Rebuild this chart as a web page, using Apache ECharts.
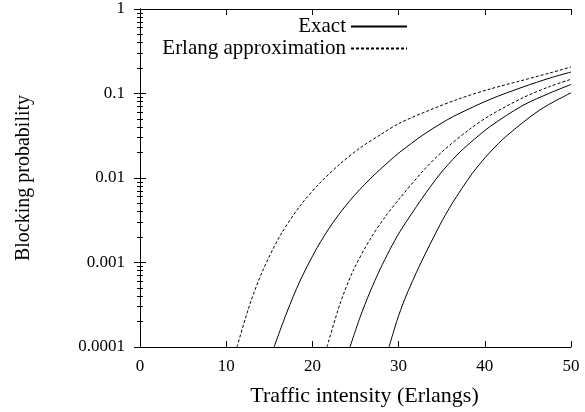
<!DOCTYPE html>
<html>
<head>
<meta charset="utf-8">
<script src="https://cdn.jsdelivr.net/npm/echarts@6/dist/echarts.min.js"></script>
<style>
html,body{margin:0;padding:0;background:#fff;}
#chart{width:585px;height:412px;}
</style>
</head>
<body>
<div id="chart"></div>
<script>
// Traffic intensity (Erlangs) vs blocking probability
const approx1X = [11.25, 12.76, 14.27, 16.24, 18.56, 20.88, 23.20, 25.52, 27.84, 30.16, 33.64, 37.12, 40.60, 44.08, 47.56, 50];
const approx1Y = [0.0001, 0.0003228, 0.000815, 0.00206, 0.00467, 0.00873, 0.01466, 0.02265, 0.03228, 0.0448, 0.0638, 0.0873, 0.113, 0.1406, 0.175, 0.206];

const exact1X = [15.55, 17.05, 18.56, 20.53, 22.39, 24.36, 26.68, 29.00, 30.16, 32.83, 35.15, 36.77, 40.60, 44.43, 47.56, 50];
const exact1Y = [0.0001, 0.0002594, 0.000604, 0.001486, 0.002972, 0.00542, 0.00973, 0.0161, 0.0203, 0.03228, 0.0456, 0.0562, 0.0851, 0.1194, 0.1524, 0.1795];

const approx2X = [21.69, 23.20, 24.71, 26.68, 28.42, 30.16, 32.83, 35.15, 38.28, 40.60, 44.43, 47.56, 50];
const approx2Y = [0.0001, 0.0003228, 0.000793, 0.001871, 0.00345, 0.00579, 0.01211, 0.0209, 0.038, 0.055, 0.0891, 0.1213, 0.1472];

const exact2X = [24.36, 25.52, 26.68, 27.84, 29.00, 30.16, 32.71, 34.80, 36.77, 38.28, 40.60, 44.43, 47.56, 50];
const exact2Y = [0.0001, 0.0002234, 0.000448, 0.000826, 0.001426, 0.002328, 0.00571, 0.01114, 0.01871, 0.02594, 0.0406, 0.0724, 0.1014, 0.1278];

const exact3X = [28.89, 29.81, 30.74, 32.48, 34.80, 36.19, 38.52, 40.60, 42.58, 46.40, 50];
const exact3Y = [0.0001, 0.000205, 0.000374, 0.00094, 0.00279, 0.00495, 0.01122, 0.0202, 0.0318, 0.0641, 0.1019];

const seriesNames = ['Exact', 'Erlang approximation'];
const xTitle = 'Traffic intensity (Erlangs)';
const yTitle = 'Blocking probability';

function pairs(xs, ys) { return xs.map((x, i) => [x, ys[i]]); }

const FONT = 'Liberation Serif';
const FS = 17;   // tick labels

function mkSeries(name, xs, ys, dashed) {
  return {
    type: 'line',
    name: name,
    data: pairs(xs, ys),
    showSymbol: false,
    symbol: 'none',
    smooth: 0.3,
    clip: true,
    lineStyle: { color: '#000', width: 1, type: dashed ? [3, 2] : 'solid' },
    itemStyle: { color: '#000' },
    emphasis: { disabled: true },
    silent: true
  };
}

const chart = echarts.init(document.getElementById('chart'), null, { renderer: 'canvas' });

const yCommon = {
  type: 'log',
  logBase: 10,
  min: 0.0001,
  max: 1,
  axisLine: { show: true, lineStyle: { color: '#000', width: 1 } },
  axisTick: { show: true, inside: true, length: 6, lineStyle: { color: '#000' } },
  minorTick: { show: true, splitNumber: 9, length: 3, lineStyle: { color: '#000' } },
  splitLine: { show: false },
  minorSplitLine: { show: false }
};
const xCommon = {
  type: 'value',
  min: 0,
  max: 50,
  interval: 10,
  axisLine: { show: true, onZero: false, lineStyle: { color: '#000', width: 1 } },
  axisTick: { show: true, inside: true, length: 6, lineStyle: { color: '#000' } },
  splitLine: { show: false }
};

chart.setOption({
  backgroundColor: '#fff',
  animation: false,
  grid: { left: 140, right: 14, top: 9, bottom: 65, containLabel: false },
  legend: {
    data: seriesNames,
    orient: 'vertical',
    align: 'right',
    right: 177,
    top: 16,
    padding: 0,
    itemWidth: 56,
    itemHeight: 14,
    itemGap: 1,
    selectedMode: false,
    itemStyle: { opacity: 0 },
    textStyle: { fontFamily: FONT, fontSize: 21, color: '#000' }
  },
  xAxis: [
    Object.assign({}, xCommon, {
      position: 'bottom',
      name: xTitle,
      nameLocation: 'middle',
      nameGap: 38,
      nameTextStyle: { fontFamily: FONT, fontSize: 22, color: '#000', padding: [0, 0, 0, 18] },
      axisLabel: { show: true, margin: 11, fontFamily: FONT, fontSize: FS, color: '#000' }
    }),
    Object.assign({}, xCommon, {
      position: 'top',
      axisLabel: { show: false }
    })
  ],
  yAxis: [
    Object.assign({}, yCommon, {
      position: 'left',
      name: yTitle,
      nameLocation: 'middle',
      nameRotate: 90,
      nameGap: 106,
      nameTextStyle: { fontFamily: FONT, fontSize: 20, color: '#000' },
      axisLabel: {
        show: true, margin: 15, fontFamily: FONT, fontSize: FS, color: '#000',
        formatter: v => String(Number(Number(v).toPrecision(1)))
      }
    }),
    Object.assign({}, yCommon, {
      position: 'right',
      axisLabel: { show: false }
    })
  ],
  series: [
    mkSeries(seriesNames[1], approx1X, approx1Y, true),
    mkSeries(seriesNames[0], exact1X, exact1Y, false),
    mkSeries(seriesNames[1], approx2X, approx2Y, true),
    mkSeries(seriesNames[0], exact2X, exact2Y, false),
    mkSeries(seriesNames[0], exact3X, exact3Y, false)
  ]
});
</script>
</body>
</html>
